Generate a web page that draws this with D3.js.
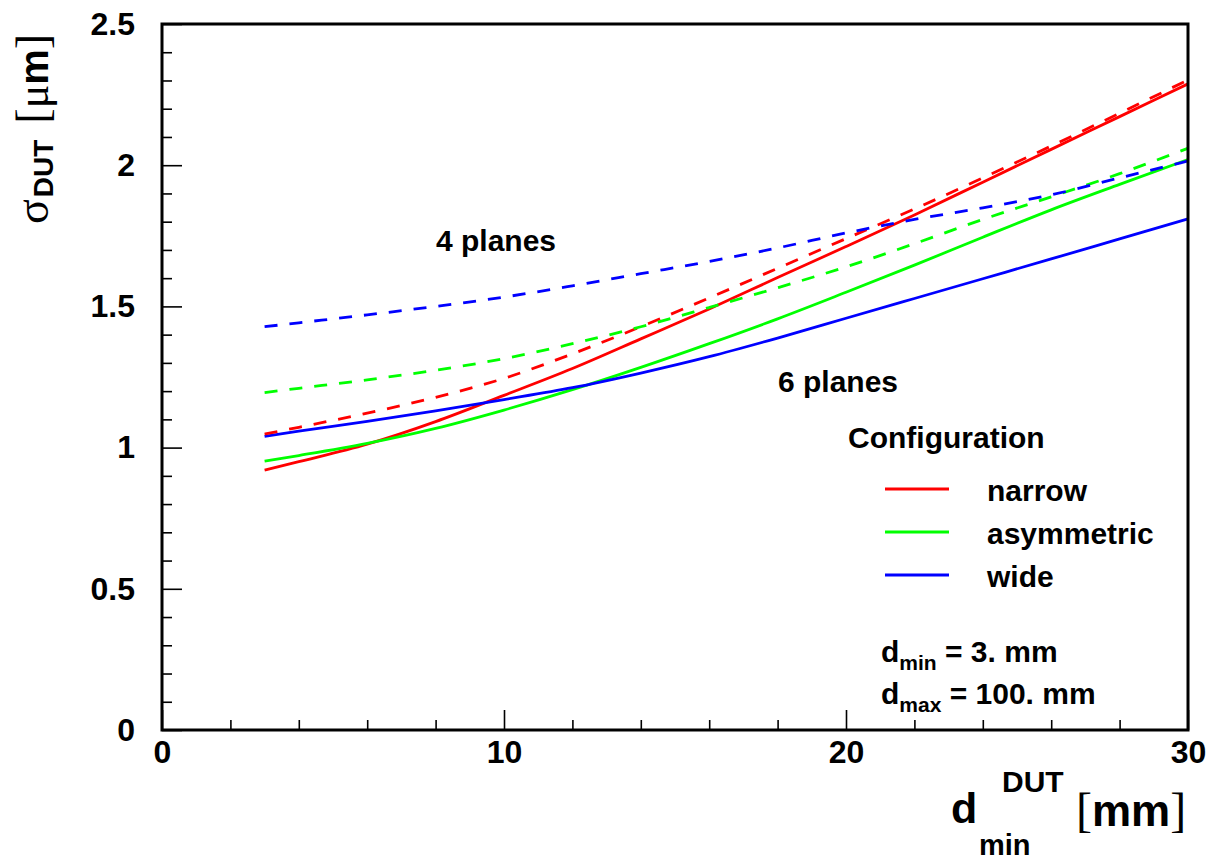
<!DOCTYPE html>
<html>
<head>
<meta charset="utf-8">
<script src="https://cdn.jsdelivr.net/npm/d3@7"></script>
<style>
  html, body { margin: 0; padding: 0; background: #fff; }
  svg { display: block; }
  text { font-family: "Liberation Sans", Arial, Helvetica, sans-serif; font-weight: bold; fill: #000; }
  .sym { font-family: "Liberation Serif", "Times New Roman", serif; font-weight: normal; }
</style>
</head>
<body>
<svg id="chart" width="1212" height="860"></svg>
<script>
// d_min^DUT positions [mm]
const dminDUT = [3, 4, 6, 8, 10, 12, 14, 16, 18, 20, 22, 24, 26, 28, 30];

// sigma_DUT [um] for each telescope configuration (6 and 4 planes)
const narrow6 = [0.920, 0.950, 1.012, 1.092, 1.185, 1.280, 1.385, 1.491, 1.602, 1.712, 1.824, 1.940, 2.056, 2.172, 2.288];
const narrow4 = [1.048, 1.072, 1.122, 1.178, 1.245, 1.332, 1.428, 1.530, 1.635, 1.740, 1.845, 1.955, 2.068, 2.184, 2.302];
const asym6   = [0.952, 0.972, 1.015, 1.068, 1.133, 1.205, 1.284, 1.368, 1.456, 1.550, 1.646, 1.745, 1.842, 1.932, 2.020];
const asym4   = [1.195, 1.210, 1.240, 1.274, 1.315, 1.368, 1.428, 1.496, 1.566, 1.640, 1.722, 1.808, 1.888, 1.970, 2.060];
const wide6   = [1.040, 1.058, 1.093, 1.130, 1.170, 1.212, 1.264, 1.322, 1.388, 1.458, 1.528, 1.598, 1.668, 1.739, 1.810];
const wide4   = [1.428, 1.442, 1.470, 1.500, 1.533, 1.573, 1.616, 1.659, 1.707, 1.760, 1.808, 1.849, 1.895, 1.955, 2.015];

const configNames = ["narrow", "asymmetric", "wide"];
const configColors = ["#ff0000", "#00ff00", "#0000ff"];

const xMajorTicks = [0, 10, 20, 30];
const xMinorTicks = [2, 4, 6, 8, 12, 14, 16, 18, 22, 24, 26, 28];
const yMajorTicks = [0, 0.5, 1, 1.5, 2, 2.5];
const yMinorTicks = [0.1, 0.2, 0.3, 0.4, 0.6, 0.7, 0.8, 0.9, 1.1, 1.2, 1.3, 1.4, 1.6, 1.7, 1.8, 1.9, 2.1, 2.2, 2.3, 2.4];

const series = [
  { values: narrow6, color: configColors[0], dashed: false },
  { values: asym6,   color: configColors[1], dashed: false },
  { values: wide6,   color: configColors[2], dashed: false },
  { values: narrow4, color: configColors[0], dashed: true },
  { values: asym4,   color: configColors[1], dashed: true },
  { values: wide4,   color: configColors[2], dashed: true }
];

const svg = d3.select("#chart");
const frame = { left: 162, right: 1188, top: 24, bottom: 730 };

const x = d3.scaleLinear().domain([0, 30]).range([frame.left, frame.right]);
const y = d3.scaleLinear().domain([0, 2.5]).range([frame.bottom, frame.top]);

// axes: ticks point into the frame
const xAxis = svg.append("g").attr("transform", `translate(0,${frame.bottom})`)
  .call(d3.axisBottom(x).tickValues(xMajorTicks).tickSize(-20).tickPadding(10).tickFormat(d3.format("d")));
const xMinor = svg.append("g").attr("transform", `translate(0,${frame.bottom})`)
  .call(d3.axisBottom(x).tickValues(xMinorTicks).tickSize(-10).tickFormat(""));
const yAxis = svg.append("g").attr("transform", `translate(${frame.left},0)`)
  .call(d3.axisLeft(y).tickValues(yMajorTicks).tickSize(-20).tickPadding(27).tickFormat(d => d3.format("~g")(d)));
const yMinor = svg.append("g").attr("transform", `translate(${frame.left},0)`)
  .call(d3.axisLeft(y).tickValues(yMinorTicks).tickSize(-10).tickFormat(""));

[xAxis, xMinor, yAxis, yMinor].forEach(g => {
  g.select(".domain").remove();
  g.selectAll(".tick line").attr("stroke", "#000").attr("stroke-width", 1.6);
  g.selectAll(".tick text").attr("font-size", 32).attr("font-family", "Liberation Sans, Arial, sans-serif").attr("font-weight", "bold").attr("fill", "#000");
});

// curves
const line = d3.line().x((d, i) => x(dminDUT[i])).y(d => y(d)).curve(d3.curveMonotoneX);
svg.append("g").selectAll("path").data(series).join("path")
  .attr("d", d => line(d.values))
  .attr("fill", "none")
  .attr("stroke", d => d.color)
  .attr("stroke-width", 2.8)
  .attr("stroke-dasharray", d => d.dashed ? "13,12" : null);

// frame
svg.append("rect")
  .attr("x", frame.left).attr("y", frame.top)
  .attr("width", frame.right - frame.left).attr("height", frame.bottom - frame.top)
  .attr("fill", "none").attr("stroke", "#000").attr("stroke-width", 3);

// annotations
svg.append("text").attr("x", 436).attr("y", 251).attr("font-size", 30).text("4 planes");
svg.append("text").attr("x", 778).attr("y", 392).attr("font-size", 30).text("6 planes");
svg.append("text").attr("x", 848).attr("y", 448).attr("font-size", 30).text("Configuration");

// legend
const legend = svg.append("g");
const legendRows = legend.selectAll("g").data(configNames).join("g")
  .attr("transform", (d, i) => `translate(885,${489 + i * 43})`);
legendRows.append("line")
  .attr("x1", 0).attr("x2", 64).attr("y1", 0).attr("y2", 0)
  .attr("stroke", (d, i) => configColors[i]).attr("stroke-width", 2.8);
legendRows.append("text").attr("x", 102).attr("y", 12).attr("font-size", 30).text(d => d);

// distance parameters
function subLabel(xp, yp, main, sub, rest) {
  const t = svg.append("text").attr("x", xp).attr("y", yp).attr("font-size", 30);
  t.append("tspan").text(main);
  t.append("tspan").attr("font-size", 21).attr("dy", 8).text(sub);
  t.append("tspan").attr("dy", -8).text(rest);
}
subLabel(881, 662, "d", "min", " = 3. mm");
subLabel(881, 704, "d", "max", " = 100. mm");

// x axis title
svg.append("text").attr("x", 951).attr("y", 823).attr("font-size", 43).text("d");
svg.append("text").attr("x", 1002).attr("y", 792).attr("font-size", 30).text("DUT");
svg.append("text").attr("x", 979).attr("y", 855).attr("font-size", 29).text("min");
const xt = svg.append("text").attr("x", 1076).attr("y", 826).attr("font-size", 44);
xt.append("tspan").attr("class", "sym").attr("font-size", 48).text("[");
xt.append("tspan").text("mm");
xt.append("tspan").attr("class", "sym").attr("font-size", 48).text("]");

// y axis title
const yt = svg.append("text")
  .attr("transform", "translate(48,224) rotate(-90)")
  .attr("font-size", 38);
yt.append("tspan").attr("class", "sym").attr("font-size", 46).text("σ");
yt.append("tspan").attr("font-size", 28).attr("dx", 2).attr("dy", 5).text("DUT");
yt.append("tspan").attr("class", "sym").attr("dx", 16).attr("dy", -5).attr("font-size", 46).text("[");
yt.append("tspan").attr("class", "sym").attr("font-size", 44).text("μ");
yt.append("tspan").attr("font-size", 40).text("m");
yt.append("tspan").attr("class", "sym").attr("font-size", 46).text("]");
</script>
</body>
</html>
